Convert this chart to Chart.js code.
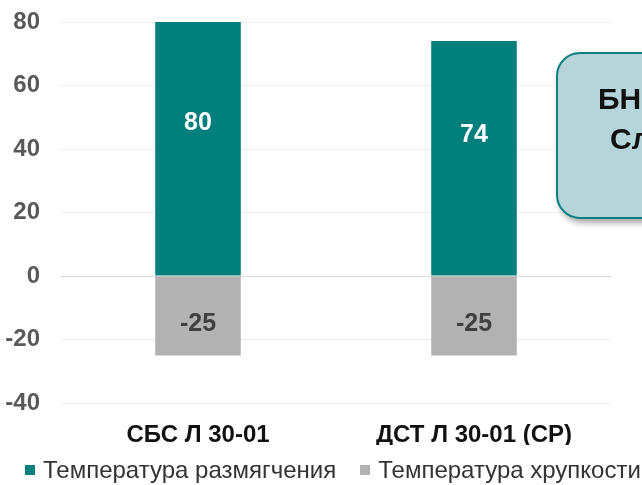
<!DOCTYPE html>
<html lang="ru">
<head>
<meta charset="UTF-8">
<title>Температура</title>
<script src="https://cdn.jsdelivr.net/npm/chart.js"></script>
<style>
  html, body { margin: 0; padding: 0; background: #fff; overflow: hidden; }
  .wrap { position: relative; width: 642px; height: 485px; }
  canvas { display: block; }
  .callout {
    position: absolute; left: 556px; top: 52px; width: 140px; height: 167px;
    box-sizing: border-box; border: 2px solid #0c7f80; border-radius: 24px;
    background: #b5d5da; box-shadow: 3px 4px 6px rgba(0,0,0,0.35);
    font: bold 30px "Liberation Sans", Arial, sans-serif; color: #111;
  }
  .callout div { position: absolute; white-space: nowrap; }
  #leyenda {
    position: absolute; left: 25px; top: 456px; white-space: nowrap;
    font: 24px "Liberation Sans", Arial, sans-serif; color: #333; line-height: 28px;
  }
  #leyenda span.item { display: inline-block; margin-right: 24px; }
  #leyenda i { display: inline-block; width: 10px; height: 10px; margin-right: 8px; vertical-align: 3px; }
</style>
</head>
<body>
<div class="wrap">
  <canvas id="grafica" width="642" height="485"></canvas>
  <div class="callout">
    <div style="left:40px; top:28px;">БН</div>
    <div style="left:52px; top:68px;">Сл</div>
  </div>
  <div id="leyenda"></div>
</div>
<script>
// --- Datos ---
const categorias = ['СБС Л 30-01', 'ДСТ Л 30-01 (СР)'];
const tempRazmyagcheniya = [80, 74];
const tempKhrupkosti = [-25, -25];
const yTicks = [80, 60, 40, 20, 0, -20, -40];

const FONT = '"Liberation Sans", Arial, sans-serif';

// etiquetas dentro de las barras
const etiquetas = {
  id: 'etiquetas',
  afterDatasetsDraw(chart) {
    const ctx = chart.ctx;
    const y = chart.scales.y;
    ctx.save();
    ctx.textAlign = 'center';
    ctx.textBaseline = 'middle';
    ctx.font = 'bold 25px ' + FONT;
    chart.data.datasets.forEach((ds, di) => {
      chart.getDatasetMeta(di).data.forEach((bar, i) => {
        const v = ds.data[i];
        ctx.fillStyle = v > 0 ? '#ffffff' : '#404040';
        ctx.fillText(String(v), bar.x, y.getPixelForValue(v * 0.6));
      });
    });
    ctx.restore();
  }
};

const chart = new Chart(document.getElementById('grafica'), {
  type: 'bar',
  data: {
    labels: categorias,
    datasets: [
      { label: 'Температура размягчения', data: tempRazmyagcheniya, backgroundColor: '#007f7c', barPercentage: 0.62, categoryPercentage: 0.5 },
      { label: 'Температура хрупкости', data: tempKhrupkosti, backgroundColor: '#b2b2b2', barPercentage: 0.62, categoryPercentage: 0.5 }
    ]
  },
  options: {
    responsive: false,
    animation: false,
    layout: { padding: { left: 6, right: 30, top: 0, bottom: 40 } },
    plugins: {
      legend: { display: false },
      tooltip: { enabled: false }
    },
    scales: {
      x: {
        stacked: true,
        afterFit(axis) { axis.height = 42; },
        grid: { display: false },
        border: { display: false },
        ticks: { color: '#111', font: { family: FONT, size: 24, weight: 'bold' }, padding: 10 }
      },
      y: {
        stacked: true,
        min: -40, max: 80,
        afterBuildTicks(axis) { axis.ticks = yTicks.map(v => ({ value: v })); },
        afterFit(axis) {
          axis.width = 54;
          axis.paddingTop = 22;
          axis.paddingBottom = 0;
        },
        grid: {
          color: ctx => ctx.tick && ctx.tick.value === 0 ? '#d9d9d9' : '#f0f0f0',
          lineWidth: 1, drawTicks: false
        },
        border: { display: false },
        ticks: { color: '#595959', font: { family: FONT, size: 24, weight: 'bold' }, padding: 20 }
      }
    }
  },
  plugins: [etiquetas]
});

// --- Leyenda ---
document.getElementById('leyenda').innerHTML = chart.data.datasets.map(ds =>
  `<span class="item"><i style="background:${ds.backgroundColor}"></i>${ds.label}</span>`
).join('');
</script>
</body>
</html>
